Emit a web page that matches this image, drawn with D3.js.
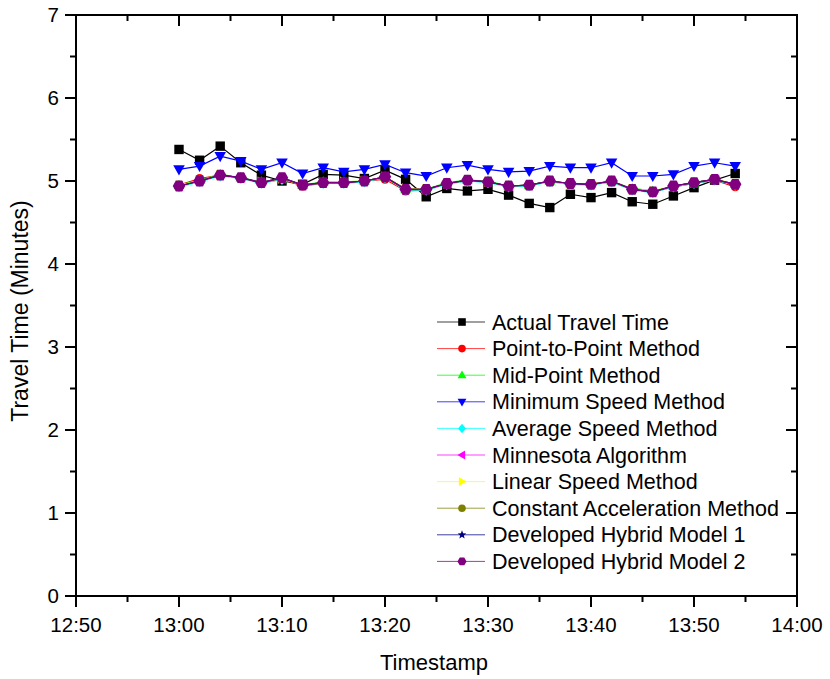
<!DOCTYPE html>
<html>
<head>
<meta charset="utf-8">
<script src="https://cdn.jsdelivr.net/npm/d3@7"></script>
<style>
  html, body { margin: 0; padding: 0; background: #fff; }
  svg { display: block; font-family: Arial, "Liberation Sans", sans-serif; }
</style>
</head>
<body>
<svg id="chart" width="830" height="679"></svg>
<script>
// Sample timestamps (every 2 minutes)
const timestamps = ["13:00","13:02","13:04","13:06","13:08","13:10","13:12","13:14","13:16","13:18",
  "13:20","13:22","13:24","13:26","13:28","13:30","13:32","13:34","13:36","13:38",
  "13:40","13:42","13:44","13:46","13:48","13:50","13:52","13:54"];

// Travel times (minutes) per method
const actualTravelTime = [5.38,5.25,5.42,5.22,5.07,5.00,4.96,5.08,5.07,5.03,5.13,5.02,4.81,4.91,4.88,4.90,4.83,4.73,4.68,4.84,4.80,4.86,4.75,4.72,4.82,4.92,5.01,5.09];
const pointToPoint     = [4.95,5.03,5.07,5.03,4.98,5.02,4.94,4.97,4.98,5.00,5.02,4.88,4.89,4.97,5.00,4.99,4.94,4.94,5.00,4.96,4.96,4.99,4.90,4.87,4.93,4.97,5.01,4.93];
const midPoint         = [4.95,5.01,5.08,5.04,4.99,5.03,4.95,4.99,4.99,5.00,5.05,4.90,4.90,4.98,5.01,5.00,4.94,4.95,5.00,4.97,4.96,5.00,4.91,4.88,4.94,4.98,5.02,4.96];
const minimumSpeed     = [5.14,5.18,5.30,5.24,5.14,5.22,5.09,5.16,5.11,5.14,5.20,5.10,5.06,5.16,5.19,5.14,5.11,5.12,5.18,5.16,5.16,5.22,5.06,5.06,5.08,5.18,5.22,5.18];
const averageSpeed     = [4.93,4.99,5.06,5.03,4.97,5.02,4.96,4.97,4.97,4.99,5.04,4.89,4.89,4.96,5.00,4.98,4.93,4.94,4.99,4.96,4.95,4.99,4.89,4.86,4.93,4.97,5.01,4.95];
const minnesota        = [4.94,5.00,5.07,5.04,4.98,5.03,4.95,4.98,4.98,5.00,5.05,4.90,4.90,4.97,5.01,4.99,4.94,4.95,5.00,4.97,4.96,5.00,4.90,4.87,4.94,4.98,5.02,4.96];
const linearSpeed      = [4.95,5.00,5.07,5.03,4.99,5.03,4.95,4.98,4.99,5.00,5.05,4.91,4.90,4.97,5.01,4.99,4.94,4.95,5.00,4.97,4.97,5.00,4.90,4.88,4.94,4.98,5.02,4.97];
const constantAccel    = [4.94,5.00,5.07,5.04,4.98,5.03,4.95,4.98,4.98,5.00,5.04,4.90,4.90,4.97,5.01,4.99,4.94,4.95,5.00,4.97,4.96,5.00,4.90,4.87,4.94,4.98,5.02,4.96];
const hybridModel1     = [4.94,5.00,5.07,5.04,4.98,5.04,4.95,4.98,4.98,5.00,5.05,4.90,4.90,4.97,5.01,4.99,4.94,4.95,5.00,4.97,4.96,5.00,4.90,4.87,4.94,4.98,5.02,4.96];
const hybridModel2     = [4.94,5.00,5.07,5.04,4.98,5.04,4.95,4.98,4.98,5.00,5.05,4.90,4.90,4.97,5.01,4.99,4.94,4.95,5.00,4.97,4.96,5.00,4.90,4.87,4.94,4.98,5.02,4.96];

const seriesNames   = ["Actual Travel Time","Point-to-Point Method","Mid-Point Method","Minimum Speed Method",
  "Average Speed Method","Minnesota Algorithm","Linear Speed Method","Constant Acceleration Method",
  "Developed Hybrid Model 1","Developed Hybrid Model 2"];
const seriesValues  = [actualTravelTime, pointToPoint, midPoint, minimumSpeed, averageSpeed,
  minnesota, linearSpeed, constantAccel, hybridModel1, hybridModel2];
const seriesColors  = ["#000000","#ff0000","#00ff00","#0000ff","#00ffff","#ff00ff","#ffff00","#808000","#000080","#800080"];
const seriesMarkers = ["square","circle","triUp","triDown","diamond","triLeft","triRight","circle","star","hexagon"];

const xDomain = ["12:50","14:00"];
const yDomain = [0, 7];
const yTickValues = [0,1,2,3,4,5,6,7];

const parse = d3.timeParse("%H:%M");
const svg = d3.select("#chart");

const plot = { left: 76, right: 797, top: 15, bottom: 596 };

const x = d3.scaleTime().domain(xDomain.map(parse)).range([plot.left, plot.right]);
const y = d3.scaleLinear().domain(yDomain).range([plot.bottom, plot.top]);

const majorX = x.ticks(d3.timeMinute.every(10));
const minorX = x.ticks(d3.timeMinute.every(5)).filter(t => t.getMinutes() % 10 !== 0);
const minorY = d3.range(0.5, 7, 1);
const fmt = d3.timeFormat("%H:%M");

// Marker shapes
function markerPath(kind, r) {
  switch (kind) {
    case "square": return `M${-r},${-r}H${r}V${r}H${-r}Z`;
    case "triUp": return `M0,${-r*1.1}L${r*1.05},${r*0.75}L${-r*1.05},${r*0.75}Z`;
    case "triDown": return `M0,${r*1.1}L${r*1.05},${-r*0.75}L${-r*1.05},${-r*0.75}Z`;
    case "triLeft": return `M${-r*1.1},0L${r*0.75},${-r*1.05}L${r*0.75},${r*1.05}Z`;
    case "triRight": return `M${r*1.1},0L${-r*0.75},${-r*1.05}L${-r*0.75},${r*1.05}Z`;
    case "diamond": return `M0,${-r*1.25}L${r*1.05},0L0,${r*1.25}L${-r*1.05},0Z`;
    case "star": {
      let p = "";
      for (let i = 0; i < 10; i++) {
        const a = -Math.PI / 2 + i * Math.PI / 5;
        const rr = i % 2 === 0 ? r * 1.2 : r * 0.5;
        p += (i ? "L" : "M") + (rr * Math.cos(a)).toFixed(2) + "," + (rr * Math.sin(a)).toFixed(2);
      }
      return p + "Z";
    }
    case "hexagon": {
      let p = "";
      for (let i = 0; i < 6; i++) {
        const a = i * Math.PI / 3;
        p += (i ? "L" : "M") + (r * 1.2 * Math.cos(a)).toFixed(2) + "," + (r * 1.2 * Math.sin(a)).toFixed(2);
      }
      return p + "Z";
    }
    default: return d3.symbol(d3.symbolCircle, Math.PI * r * r)();
  }
}
const markerSize = { square: 4.7, circle: 4.5, triUp: 5, triDown: 5.5, diamond: 4.5, triLeft: 5, triRight: 5, star: 4.5, hexagon: 5.2 };

// Axes frame
const frame = svg.append("g").attr("stroke", "#000").attr("stroke-width", 2).attr("fill", "none");
frame.append("rect").attr("x", plot.left).attr("y", plot.top)
  .attr("width", plot.right - plot.left).attr("height", plot.bottom - plot.top);

// Ticks
const ticks = svg.append("g").attr("stroke", "#000").attr("stroke-width", 2);
majorX.forEach(t => {
  ticks.append("line").attr("x1", x(t)).attr("x2", x(t)).attr("y1", plot.bottom).attr("y2", plot.bottom + 11);
  ticks.append("line").attr("x1", x(t)).attr("x2", x(t)).attr("y1", plot.top).attr("y2", plot.top + 11);
});
minorX.forEach(t => {
  ticks.append("line").attr("x1", x(t)).attr("x2", x(t)).attr("y1", plot.bottom).attr("y2", plot.bottom + 6);
  ticks.append("line").attr("x1", x(t)).attr("x2", x(t)).attr("y1", plot.top).attr("y2", plot.top + 6);
});
yTickValues.forEach(v => {
  ticks.append("line").attr("x1", plot.left - 11).attr("x2", plot.left).attr("y1", y(v)).attr("y2", y(v));
  ticks.append("line").attr("x1", plot.right - 11).attr("x2", plot.right).attr("y1", y(v)).attr("y2", y(v));
});
minorY.forEach(v => {
  ticks.append("line").attr("x1", plot.left - 6).attr("x2", plot.left).attr("y1", y(v)).attr("y2", y(v));
  ticks.append("line").attr("x1", plot.right - 6).attr("x2", plot.right).attr("y1", y(v)).attr("y2", y(v));
});

// Tick labels
svg.append("g").selectAll("text").data(majorX).join("text")
  .attr("x", d => x(d)).attr("y", plot.bottom + 36)
  .attr("text-anchor", "middle").attr("font-size", 20.5).text(d => fmt(d));
svg.append("g").selectAll("text").data(yTickValues).join("text")
  .attr("x", plot.left - 17).attr("y", d => y(d) + 7)
  .attr("text-anchor", "end").attr("font-size", 20.5).text(d => d);

// Axis titles
svg.append("text").attr("x", 434).attr("y", 670)
  .attr("text-anchor", "middle").attr("font-size", 22).text("Timestamp");
svg.append("text").attr("transform", "translate(28,311) rotate(-90)")
  .attr("text-anchor", "middle").attr("font-size", 23).text("Travel Time (Minutes)");

// Series lines and markers
const line = d3.line().x(d => x(parse(d.t))).y(d => y(d.v));
seriesValues.forEach((vals, i) => {
  const pts = vals.map((v, k) => ({ t: timestamps[k], v }));
  const g = svg.append("g");
  g.append("path").datum(pts).attr("d", line)
    .attr("fill", "none").attr("stroke", seriesColors[i]).attr("stroke-width", 1.2);
  g.selectAll("path.m").data(pts).join("path").attr("class", "m")
    .attr("transform", d => `translate(${x(parse(d.t))},${y(d.v)})`)
    .attr("d", markerPath(seriesMarkers[i], markerSize[seriesMarkers[i]]))
    .attr("fill", seriesColors[i]);
});

// Legend
const legend = svg.append("g").attr("transform", "translate(437,322)");
const triKinds = ["triUp", "triDown", "triLeft", "triRight"];
seriesNames.forEach((name, i) => {
  const row = legend.append("g").attr("transform", `translate(0,${i * 26.6})`);
  row.append("line").attr("x1", 0).attr("x2", 48).attr("y1", 0).attr("y2", 0)
    .attr("stroke", seriesColors[i]).attr("stroke-width", 1).attr("opacity", 0.75);
  row.append("path").attr("transform", "translate(25,0)")
    .attr("d", markerPath(seriesMarkers[i], triKinds.includes(seriesMarkers[i]) ? 4.2 : 3.8))
    .attr("fill", seriesColors[i]);
  row.append("text").attr("x", 55).attr("y", 7.5).attr("font-size", 21.5).text(name);
});
</script>
</body>
</html>
